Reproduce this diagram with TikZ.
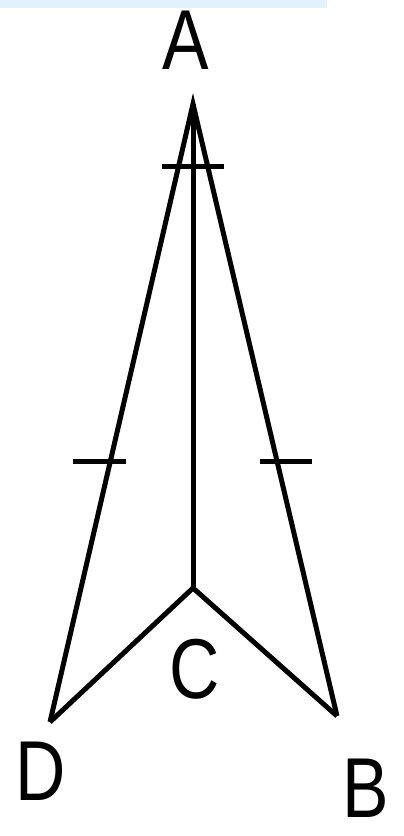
\documentclass[tikz,border=0pt]{standalone}
\usepackage{fontspec}
\setmainfont{Liberation Sans}
\begin{document}
\begin{tikzpicture}[x=1pt,y=-1pt,
  seg/.style={line width=5pt,line join=miter,line cap=butt},
  lbl/.style={inner sep=0pt,font=\fontsize{85}{88}\selectfont,xscale=0.82}]
\useasboundingbox (0,0) rectangle (404,836);
\fill[fill={rgb,255:red,226;green,242;blue,252}] (0,0) rectangle (327,8);
\coordinate (A) at (193,104);
\coordinate (C) at (193,588);
\coordinate (D) at (50,722);
\coordinate (B) at (337,716);
\draw[seg] (D) -- (A) -- (B);
\draw[seg] (A) -- (C);
\draw[seg] (D) -- (C) -- (B);
\coordinate (t1a) at (162,166); \coordinate (t1b) at (224,166);
\coordinate (t2a) at (73,461); \coordinate (t2b) at (126,461);
\coordinate (t3a) at (260,461); \coordinate (t3b) at (312,461);
\draw[seg] (t1a) -- (t1b);
\draw[seg] (t2a) -- (t2b);
\draw[seg] (t3a) -- (t3b);
\node[lbl] (lA) at (186,40) {A};
\node[lbl] (lC) at (195,669) {C};
\node[lbl] (lD) at (41,771) {D};
\node[lbl] (lB) at (366,788) {B};
\end{tikzpicture}
\end{document}
